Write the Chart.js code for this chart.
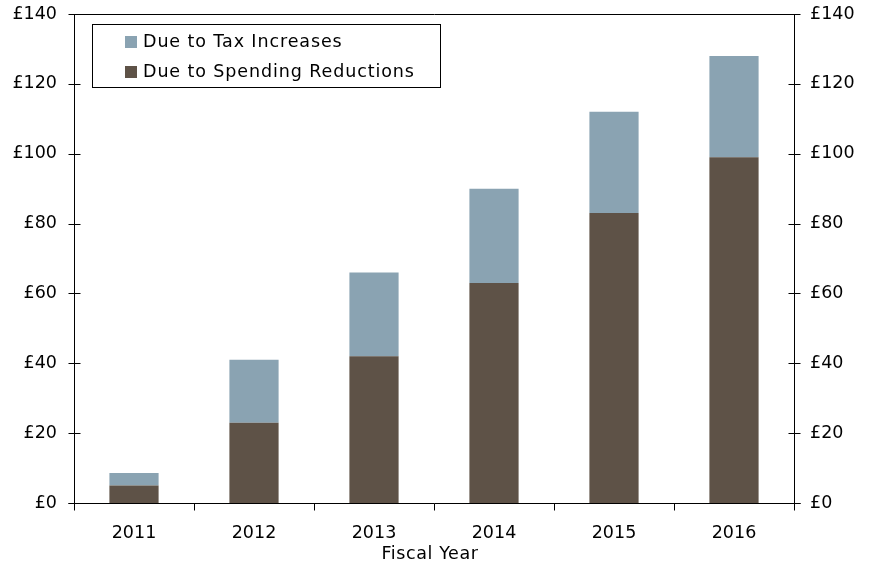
<!DOCTYPE html>
<html>
<head>
<meta charset="utf-8">
<script src="https://cdn.jsdelivr.net/npm/chart.js@4"></script>
<style>
  html, body { margin: 0; padding: 0; background: #ffffff; }
  #wrap { width: 869px; height: 569px; }
</style>
</head>
<body>
<div id="wrap"><canvas id="c" width="869" height="569"></canvas></div>
<script>
// Fiscal years shown on the category axis
const years = ['2011', '2012', '2013', '2014', '2015', '2016'];
// Consolidation from spending cuts (£ billions, bottom of stack)
const spendingReductions = [5, 23, 42, 63, 83, 99];
// Consolidation from tax rises (£ billions, stacked on top)
const taxIncreases = [3.6, 18, 24, 27, 29, 29];
// Value axis ticks
const yTicks = [0, 20, 40, 60, 80, 100, 120, 140];
const xAxisTitle = 'Fiscal Year';

const FONT = 'DejaVu Sans, Verdana, sans-serif';
const TAX_COLOR = 'rgb(138,163,178)';
const SPEND_COLOR = 'rgb(94,82,71)';

// Frame, crossing tick marks, axis title and the boxed legend
const framePlugin = {
  id: 'frame',
  afterDraw(chart) {
    const ctx = chart.ctx;
    const a = chart.chartArea;
    const y = chart.scales.y;
    const x = chart.scales.x;
    ctx.save();
    ctx.strokeStyle = '#000';
    ctx.lineWidth = 1;
    const L = Math.round(a.left) + 0.5, R = Math.round(a.right) + 0.5;
    const T = Math.round(a.top) + 0.5, B = Math.round(a.bottom) + 0.5;
    ctx.beginPath();
    ctx.moveTo(L, T); ctx.lineTo(R, T);
    ctx.moveTo(L, T); ctx.lineTo(L, B);
    ctx.moveTo(R, T); ctx.lineTo(R, B);
    ctx.moveTo(L - 6, B); ctx.lineTo(R + 6, B);
    // value ticks on both sides, crossing the axis lines
    yTicks.forEach(v => {
      const py = Math.round(y.getPixelForValue(v)) + 0.5;
      ctx.moveTo(L - 6, py); ctx.lineTo(L + 6, py);
      ctx.moveTo(R - 6, py); ctx.lineTo(R + 6, py);
    });
    // category boundary ticks below the axis
    for (let i = 0; i <= years.length; i++) {
      let px;
      if (i === 0) px = a.left;
      else if (i === years.length) px = a.right;
      else px = (x.getPixelForValue(i - 1) + x.getPixelForValue(i)) / 2;
      px = Math.round(px) + 0.5;
      ctx.moveTo(px, B); ctx.lineTo(px, B + 7);
    }
    ctx.stroke();

    ctx.font = '17.5px ' + FONT;
    ctx.textBaseline = 'middle';

    // category axis title
    ctx.fillStyle = '#000';
    ctx.textAlign = 'center';
    ctx.letterSpacing = '0.6px';
    ctx.fillText(xAxisTitle, (a.left + a.right) / 2 - 4, a.bottom + 51);

    // legend box inside the plot area
    const bx = a.left + 18, by = a.top + 10, bw = 348, bh = 63;
    ctx.fillStyle = '#fff';
    ctx.fillRect(bx, by, bw, bh);
    ctx.strokeRect(Math.round(bx) + 0.5, Math.round(by) + 0.5, bw, bh);
    const items = [chart.data.datasets[1], chart.data.datasets[0]];
    ctx.textAlign = 'left';
    ctx.letterSpacing = '0.9px';
    items.forEach((ds, i) => {
      const cy = by + 18 + i * 30;
      ctx.fillStyle = ds.backgroundColor;
      ctx.fillRect(bx + 33, cy - 6, 12, 12);
      ctx.fillStyle = '#000';
      ctx.fillText(ds.label, bx + 51, cy);
    });
    ctx.restore();
  }
};

function fixValueAxis(s, w) {
  s.width = w;
  s.paddingTop = 0;
  s.paddingBottom = 0;
}

new Chart(document.getElementById('c'), {
  type: 'bar',
  data: {
    labels: years,
    datasets: [
      { label: 'Due to Spending Reductions', data: spendingReductions, backgroundColor: SPEND_COLOR },
      { label: 'Due to Tax Increases', data: taxIncreases, backgroundColor: TAX_COLOR }
    ]
  },
  options: {
    responsive: false,
    animation: false,
    layout: { padding: { top: 14, left: 0, right: 0, bottom: 0 } },
    datasets: { bar: { categoryPercentage: 1, barPercentage: 0.41 } },
    plugins: { legend: { display: false }, tooltip: { enabled: false } },
    scales: {
      x: {
        stacked: true,
        grid: { display: false },
        border: { display: false },
        ticks: { color: '#000', font: { family: FONT, size: 17.5 }, padding: 12 },
        afterFit(s) { s.height = 66; s.paddingLeft = 0; s.paddingRight = 0; }
      },
      y: {
        stacked: true,
        position: 'left',
        min: 0, max: 140,
        afterBuildTicks(s) { s.ticks = yTicks.map(v => ({ value: v })); },
        grid: { display: false },
        border: { display: false },
        ticks: { color: '#000', font: { family: FONT, size: 17.5 }, padding: 9, callback: v => '£' + v },
        afterFit(s) { fixValueAxis(s, 74); }
      },
      y2: {
        position: 'right',
        min: 0, max: 140,
        afterBuildTicks(s) { s.ticks = yTicks.map(v => ({ value: v })); },
        grid: { display: false },
        border: { display: false },
        ticks: { color: '#000', font: { family: FONT, size: 17.5 }, padding: 8, callback: v => '£' + v },
        afterFit(s) { fixValueAxis(s, 75); }
      }
    }
  },
  plugins: [framePlugin]
});
</script>
</body>
</html>
